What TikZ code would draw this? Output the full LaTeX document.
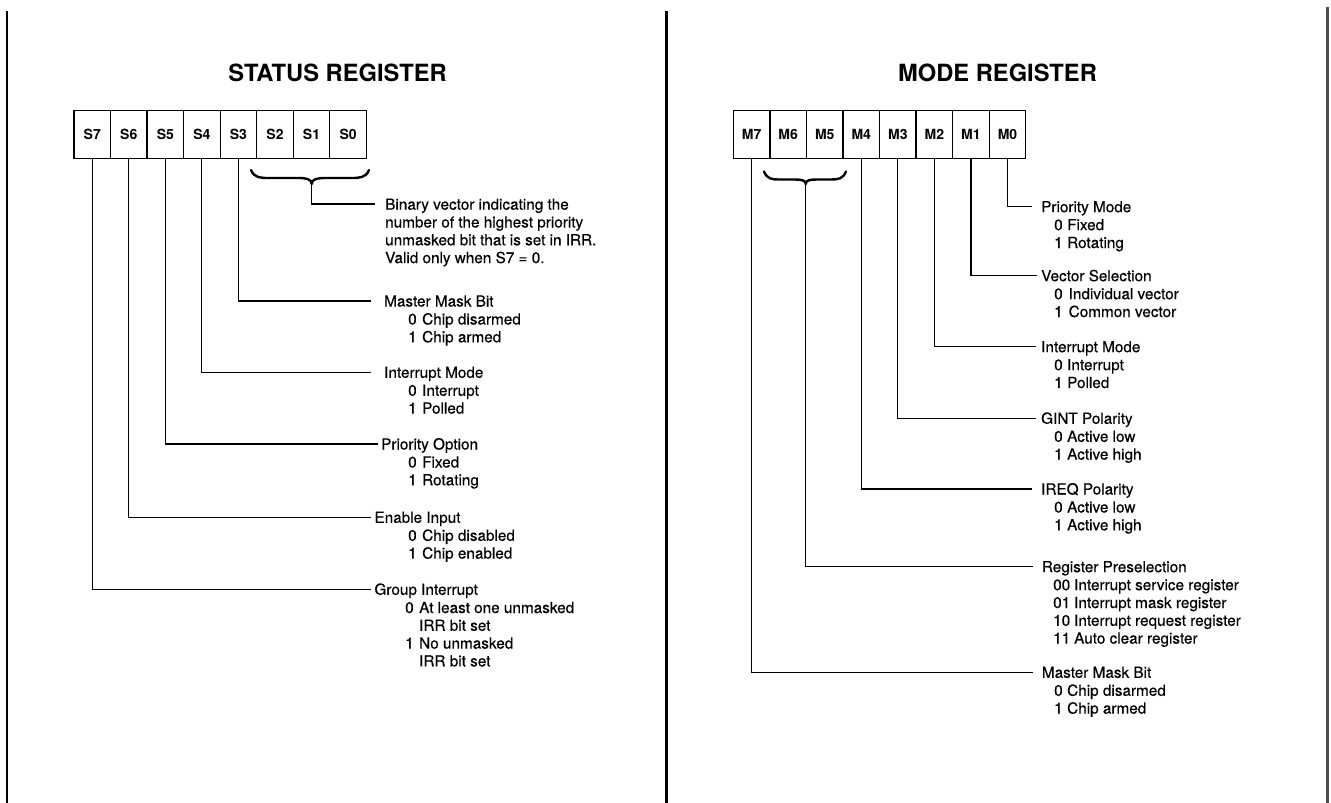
\documentclass[tikz,border=0pt]{standalone}
\usepackage{fontspec}
\setmainfont{TeX Gyre Heros}
\newfontfamily\bodyfont[FakeBold=0.35]{TeX Gyre Heros}
\newcommand\fl{\rule{0pt}{11.5pt}}
\newcommand\nm[2][14pt]{\makebox[#1][l]{#2}}
\tikzset{
  cell/.style={draw, line width=1.3pt, minimum width=36.55pt, minimum height=48.5pt, inner sep=0pt, anchor=north west, font=\bfseries\fontsize{14}{14}\selectfont},
  conn/.style={line width=1.2pt},
  ttl/.style={anchor=west, inner sep=0pt, text height=11pt, text depth=0pt, font=\bodyfont\fontsize{15.3}{17.8}\selectfont},
  itm/.style={anchor=north west, inner sep=0pt, align=left, font=\bodyfont\fontsize{15.3}{17.8}\selectfont},
  head/.style={font=\bfseries\fontsize{23.7}{24}\selectfont, inner sep=0pt, text height=17pt, text depth=0pt},
  frameline/.style={line width=2.2pt},
  bracestyle/.style={line width=2.4pt, line cap=round, line join=round},
}
\begin{document}
\begin{tikzpicture}[x=1pt,y=-1pt]
\fill[white] (0,0) rectangle (1331,803);
\useasboundingbox (0,0) rectangle (1331,803);
% frame lines
\draw[frameline] (6.7,11) -- (6.7,803);
\draw[frameline, line width=2.5pt] (666.7,11) -- (666.7,803);
\draw[frameline, line width=2.5pt, black!70] (1327.5,7) -- (1327.5,803);
% headings
\node[head] (hS) at (337.5,73.3) {STATUS REGISTER};
\node[head] (hM) at (997.5,73.3) {MODE REGISTER};
% register cells
\foreach \i/\n in {0/7,1/6,2/5,3/4,4/3,5/2,6/1,7/0}{
  \node[cell] (S\n) at ({73.3+\i*36.55},109.5) {S\n};
  \node[cell] (M\n) at ({732.7+\i*36.55},109.5) {M\n};
}
% ---------- STATUS REGISTER ----------
% brace S2..S0
\draw[bracestyle] (251,170) .. controls (254,178) and (261,178) .. (269,178) -- (298,178)
  .. controls (306,178) and (311.7,179) .. (311.7,184)
  .. controls (311.7,179) and (317.4,178) .. (325.4,178) -- (351,178)
  .. controls (359,178) and (366,178) .. (369,170);
\coordinate (tipS) at (311.7,184);
\coordinate (eB) at (375,204);
\draw[conn] (tipS) |- (eB);
\node[itm] (dB) at (385,198) {\fl Binary vector indicating the\\number of the highest priority\\unmasked bit that is set in IRR.\\Valid only when S7 = 0.};
% S3
\coordinate (eS3) at (371,301);
\draw[conn] (S3.south) |- (eS3);
\node[ttl] (tS3) at (384,301) {Master Mask Bit};
\node[itm] (iS3) at (408,312.8) {\fl\nm{0}Chip disarmed\\\nm{1}Chip armed};
% S4
\coordinate (eS4) at (371,372.3);
\draw[conn] (S4.south) |- (eS4);
\node[ttl] (tS4) at (384,372.3) {Interrupt Mode};
\node[itm] (iS4) at (408,384.1) {\fl\nm{0}Interrupt\\\nm{1}Polled};
% S5
\coordinate (eS5) at (378,444);
\draw[conn] (S5.south) |- (eS5);
\node[ttl] (tS5) at (381,444) {Priority Option};
\node[itm] (iS5) at (408,455.8) {\fl\nm{0}Fixed\\\nm{1}Rotating};
% S6
\coordinate (eS6) at (371,517.3);
\draw[conn] (S6.south) |- (eS6);
\node[ttl] (tS6) at (374.3,517.3) {Enable Input};
\node[itm] (iS6) at (408,529.1) {\fl\nm{0}Chip disabled\\\nm{1}Chip enabled};
% S7
\coordinate (eS7) at (371,589.3);
\draw[conn] (S7.south) |- (eS7);
\node[ttl] (tS7) at (374.3,589.3) {Group Interrupt};
\node[itm] (iS7) at (405,601.3) {\fl\nm{0}At least one unmasked\\\nm{}IRR bit set\\\nm{1}No unmasked\\\nm{}IRR bit set};
% ---------- MODE REGISTER ----------
% brace M6..M5
\draw[bracestyle] (764,171.5) .. controls (767,179) and (772,179.5) .. (779,179.5) -- (794,179.5)
  .. controls (801,179.5) and (805.7,180) .. (805.7,184)
  .. controls (805.7,180) and (810.4,179.5) .. (817.4,179.5) -- (831,179.5)
  .. controls (838,179.5) and (843,179) .. (846,171.5);
\coordinate (tipM) at (805.7,184);
\coordinate (eRP) at (1033,566.7);
\draw[conn] (tipM) |- (eRP);
\node[ttl] (tRP) at (1041.7,566.7) {Register Preselection};
\node[itm] (iRP) at (1053,578.5) {\fl\nm[21pt]{00}Interrupt service register\\\nm[21pt]{01}Interrupt mask register\\\nm[21pt]{10}Interrupt request register\\\nm[21pt]{11}Auto clear register};
% M0
\coordinate (eM0) at (1032,206.7);
\draw[conn] (M0.south) |- (eM0);
\node[ttl] (tM0) at (1041,206.7) {Priority Mode};
\node[itm] (iM0) at (1054,218.5) {\fl\nm[13pt]{0}Fixed\\\nm[13pt]{1}Rotating};
% M1
\coordinate (eM1) at (1037,275.7);
\draw[conn] (M1.south) |- (eM1);
\node[ttl] (tM1) at (1041,275.7) {Vector Selection};
\node[itm] (iM1) at (1054,287.5) {\fl\nm[14.5pt]{0}Individual vector\\\nm[14.5pt]{1}Common vector};
% M2
\coordinate (eM2) at (1036,346.7);
\draw[conn] (M2.south) |- (eM2);
\node[ttl] (tM2) at (1041,346.7) {Interrupt Mode};
\node[itm] (iM2) at (1054,358.5) {\fl\nm[13pt]{0}Interrupt\\\nm[13pt]{1}Polled};
% M3
\coordinate (eM3) at (1036,418.3);
\draw[conn] (M3.south) |- (eM3);
\node[ttl] (tM3) at (1041,418.3) {GINT Polarity};
\node[itm] (iM3) at (1054,430.1) {\fl\nm[13pt]{0}Active low\\\nm[13pt]{1}Active high};
% M4
\coordinate (eM4) at (1032,489);
\draw[conn] (M4.south) |- (eM4);
\node[ttl] (tM4) at (1041,489) {IREQ Polarity};
\node[itm] (iM4) at (1054,500.8) {\fl\nm[13pt]{0}Active low\\\nm[13pt]{1}Active high};
% M7
\coordinate (eM7) at (1033,672.3);
\draw[conn] (M7.south) |- (eM7);
\node[ttl] (tM7) at (1041.7,672.3) {Master Mask Bit};
\node[itm] (iM7) at (1054,684.1) {\fl\nm[13pt]{0}Chip disarmed\\\nm[13pt]{1}Chip armed};
\end{tikzpicture}
\end{document}
